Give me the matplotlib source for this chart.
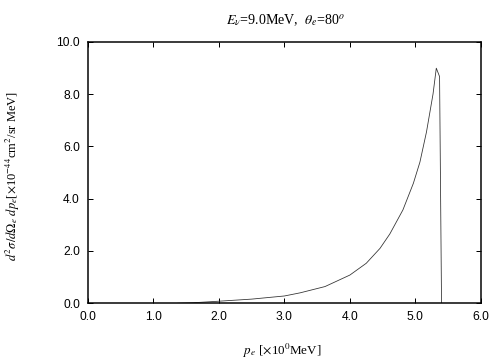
import matplotlib
matplotlib.use("Agg")
from matplotlib import pyplot as plt
from matplotlib.ticker import FormatStrFormatter, MultipleLocator

# electron momentum [MeV] and cross section [1e-44 cm^2/sr MeV]
p_e = [1.37, 1.6, 2.0, 2.5, 3.0, 3.24, 3.62, 4.0, 4.25, 4.46, 4.61, 4.81,
       4.97, 5.07, 5.17, 5.27, 5.32, 5.37, 5.40]
xsec = [0.0, 0.02, 0.08, 0.16, 0.28, 0.40, 0.64, 1.08, 1.53, 2.10, 2.65, 3.57,
        4.59, 5.40, 6.55, 8.0, 8.99, 8.67, 0.0]

title = r"$E_\nu$=9.0MeV,  $\theta_e$=80$^o$"
xlabel = r"$p_e$ [$\times$10$^0$MeV]"
ylabel = r"$d^2\sigma/d\Omega_e\ dp_e$[$\times$10$^{-44}$cm$^2$/sr MeV]"

plt.rcParams["mathtext.fontset"] = "stix"
serif = "Liberation Serif"

fig = plt.figure(figsize=(7, 5), dpi=72)
ax = fig.add_axes([0.1746, 0.1575, 0.7794, 0.7265])

ax.plot(p_e, xsec, color="#333333", lw=0.8)

ax.set_xlim(0, 6)
ax.set_ylim(0, 10)
ax.xaxis.set_major_locator(MultipleLocator(1))
ax.yaxis.set_major_locator(MultipleLocator(2))
ax.xaxis.set_major_formatter(FormatStrFormatter("%.1f"))
ax.yaxis.set_major_formatter(FormatStrFormatter("%.1f"))
ax.tick_params(direction="in", length=5, width=1, top=True, right=True,
               labelsize=12, pad=8)
for lbl in ax.get_xticklabels() + ax.get_yticklabels():
    lbl.set_family("Liberation Sans")
for sp in ax.spines.values():
    sp.set_linewidth(1.5)

fig.text(0.567, 0.945, title, ha="center", va="center", fontsize=14, family=serif)
fig.text(0.56, 0.026, xlabel, ha="center", va="center", fontsize=13, family=serif)
fig.text(0.026, 0.511, ylabel, ha="center", va="center", rotation=90,
         fontsize=12.5, family=serif)

fig.savefig("out.png", dpi=72)
